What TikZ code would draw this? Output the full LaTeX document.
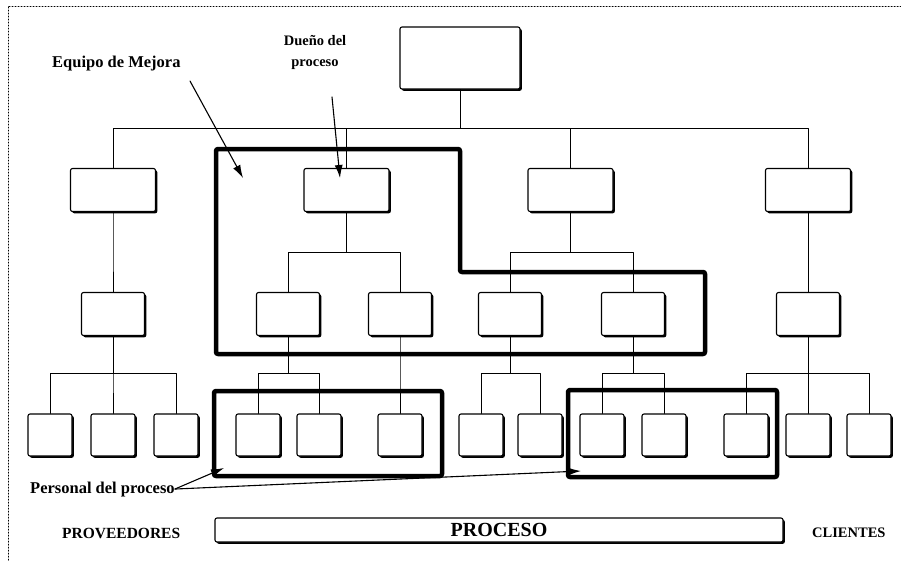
\documentclass[tikz,border=0pt]{standalone}
\usepackage{fontspec}
\setmainfont{Liberation Serif}
\usetikzlibrary{arrows.meta,shadows}
\begin{document}
\begin{tikzpicture}[x=1pt,y=-1pt,>={Latex[length=13pt,width=8pt]},line join=round,line cap=round,
	caja/.style={draw,fill=white,line width=1.1pt,rounded corners=2pt,inner sep=0pt,
		general shadow={fill=black,shadow xshift=1.8pt,shadow yshift=-1.8pt}},
	linea/.style={line width=0.9pt},
	flecha/.style={line width=1.1pt,->},
	grupo/.style={line width=4.5pt,rounded corners=2pt},
	etiqueta/.style={font=\fontsize{16.5}{20}\selectfont\bfseries,inner sep=0pt}]
	\useasboundingbox (0,0) rectangle (901,560);
	\draw[dotted,line width=1pt] (8,560)--(8,6)--(901,6);
	% cajas del organigrama
	\node[caja,minimum width=120pt,minimum height=62pt] (jefe) at (460,58) {};
	\foreach \n/\x in {d1/113,d2/346.5,d3/570.5,d4/808}
		\node[caja,minimum width=85pt,minimum height=43pt] (\n) at (\x,190) {};
	\foreach \n/\x in {a1/113,a2/288,a3/400,a4/510,a5/633,a6/808}
		\node[caja,minimum width=63pt,minimum height=43pt] (\n) at (\x,314) {};
	\foreach \n/\x in {s1/50,s2/113,s3/176,s4/258,s5/319,s6/400,s7/481,s8/540,s9/602,s10/664,s11/746,s12/808,s13/869}
		\node[caja,minimum width=44pt,minimum height=42pt] (\n) at (\x,435) {};
	% lineas de mando
	\foreach \p/\h/\yb in {jefe/d1/128,jefe/d2/128,jefe/d3/128,jefe/d4/128,d1/a1/252,d2/a2/252,d2/a3/252,d3/a4/252,d3/a5/252,d4/a6/252,
		a1/s1/373,a1/s2/373,a1/s3/373,a2/s4/373,a2/s5/373,a3/s6/373,a4/s7/373,a4/s8/373,a5/s9/373,a5/s10/373,a6/s11/373,a6/s12/373,a6/s13/373}
		\draw[linea] (\p.south)--(\p.south |- 0,\yb)-|(\h.north);
	% grupos
	\draw[grupo] (216,149)--(460,149)--(460,272)--(705,272)--(705,354)--(216,354)--cycle;
	\draw[grupo] (214,391) rectangle (442,476);
	\draw[grupo] (568,390) rectangle (777,477);
	% etiquetas
	\node[etiqueta,anchor=base west] (lblequipo) at (52,67) {Equipo de Mejora};
	\node[etiqueta,font=\fontsize{14.5}{21}\selectfont\bfseries,align=center,anchor=base] (lbldueno) at (315,66) {Due\~no del\\proceso};
	\node[etiqueta,anchor=base west] (lblpersonal) at (30,493) {Personal del proceso};
	\coordinate (eq0) at (190,81);
	\coordinate (eq1) at (243,178);
	\coordinate (du0) at (332,97);
	\coordinate (du1) at (340,178);
	\coordinate (pe1) at (224,468);
	\coordinate (pe2) at (581,471);
	\draw[flecha] (eq0)--(eq1);
	\draw[flecha] (du0)--(du1);
	\draw[flecha] (lblpersonal.east)--(pe1);
	\draw[flecha] (lblpersonal.east)--(pe2);
	% cadena
	\node[etiqueta,font=\fontsize{15.5}{18}\selectfont\bfseries,anchor=base west] (prov) at (62,538) {PROVEEDORES};
	\node[caja,minimum width=568pt,minimum height=24pt,font=\fontsize{20}{22}\selectfont\bfseries] (proceso) at (499,530) {PROCESO};
	\node[etiqueta,font=\fontsize{14.5}{17}\selectfont\bfseries,anchor=base west] (clientes) at (812,537) {CLIENTES};
\end{tikzpicture}
\end{document}
